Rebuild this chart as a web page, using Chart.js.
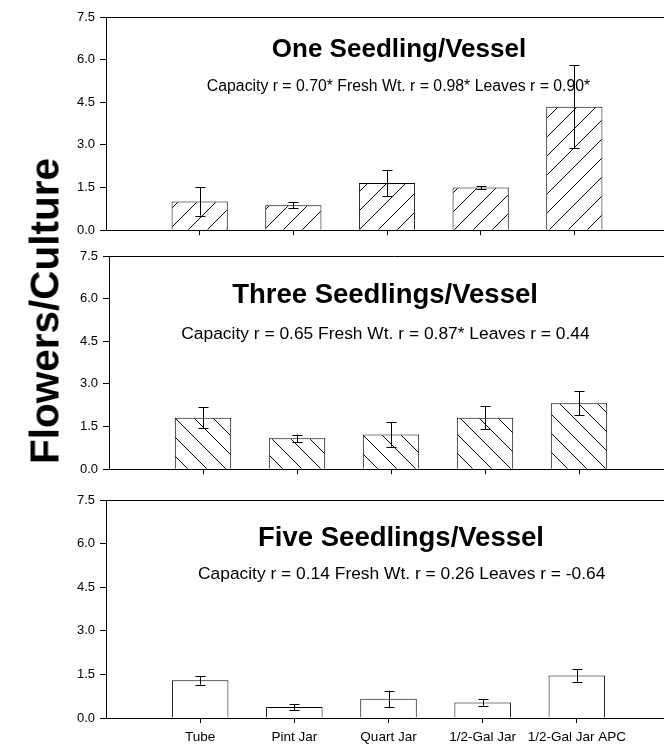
<!DOCTYPE html>
<html><head><meta charset="utf-8">
<script src="https://cdn.jsdelivr.net/npm/chart.js@4.4.1/dist/chart.umd.min.js"></script>
<style>
html,body{margin:0;padding:0;background:#fff;overflow:hidden;width:664px;height:745px;}
.wrap{position:absolute;left:0;}
#ytitle{position:absolute;left:45px;top:311px;transform:translate(-50%,-50%) rotate(-90deg);font:bold 40.5px "Liberation Sans",Arial,sans-serif;white-space:nowrap;color:#000;}
</style></head><body>
<div class="wrap" style="top:0"><canvas id="c1" width="680" height="243"></canvas></div>
<div class="wrap" style="top:243px"><canvas id="c2" width="680" height="239"></canvas></div>
<div class="wrap" style="top:482px"><canvas id="c3" width="680" height="263"></canvas></div>
<div id="ytitle">Flowers/Culture</div>
<script>
// ---- data ----
const categories = ['Tube', 'Pint Jar', 'Quart Jar', '1/2-Gal Jar', '1/2-Gal Jar APC'];
const oneMean   = [1.01, 0.88, 1.66, 1.50, 4.34];
const oneErr    = [0.50, 0.10, 0.47, 0.06, 1.46];
const threeMean = [1.81, 1.09, 1.22, 1.81, 2.32];
const threeErr  = [0.37, 0.13, 0.43, 0.41, 0.42];
const fiveMean  = [1.30, 0.38, 0.66, 0.53, 1.46];
const fiveErr   = [0.15, 0.10, 0.28, 0.11, 0.21];
const yTicks    = [0, 1.5, 3.0, 4.5, 6.0, 7.5];
const panelTitles = ['One Seedling/Vessel', 'Three Seedlings/Vessel', 'Five Seedlings/Vessel'];
const panelStats  = [
  'Capacity r = 0.70* Fresh Wt. r = 0.98* Leaves r = 0.90*',
  'Capacity r = 0.65 Fresh Wt. r = 0.87* Leaves r = 0.44',
  'Capacity r = 0.14 Fresh Wt. r = 0.26 Leaves r = -0.64'
];

const FONT = '"Liberation Sans", Arial, Helvetica, sans-serif';
const labels = ['', ...categories, ''];
const pad = arr => [null, ...arr, null];

function hatch(dir) {
  const s = 19;
  const c = document.createElement('canvas');
  c.width = s; c.height = s;
  const g = c.getContext('2d');
  g.fillStyle = '#fff'; g.fillRect(0, 0, s, s);
  g.strokeStyle = '#000'; g.lineWidth = 1;
  g.beginPath();
  if (dir === '/') {
    g.moveTo(-2, s + 2); g.lineTo(s + 2, -2);
    g.moveTo(-2, 2); g.lineTo(2, -2);
    g.moveTo(s - 2, s + 2); g.lineTo(s + 2, s - 2);
  } else {
    g.moveTo(-2, -2); g.lineTo(s + 2, s + 2);
    g.moveTo(s - 2, -2); g.lineTo(s + 2, 2);
    g.moveTo(-2, s - 2); g.lineTo(2, s + 2);
  }
  g.stroke();
  return g.createPattern(c, 'repeat');
}

const decor = {
  id: 'decor',
  afterDatasetsDraw(chart, args, o) {
    const ctx = chart.ctx, a = chart.chartArea;
    const ys = chart.scales.y;
    const meta = chart.getDatasetMeta(0);
    ctx.save();
    ctx.strokeStyle = '#000'; ctx.lineWidth = 1;
    // error bars
    o.err.forEach((e, i) => {
      const v = o.mean[i];
      const el = meta.data[i + 1];
      const x = Math.round(el.x) + 0.5;
      const y1 = ys.getPixelForValue(v + e), y2 = ys.getPixelForValue(v - e);
      ctx.beginPath();
      ctx.moveTo(x, y1); ctx.lineTo(x, y2);
      ctx.moveTo(x - 5, Math.round(y1) + 0.5); ctx.lineTo(x + 5, Math.round(y1) + 0.5);
      ctx.moveTo(x - 5, Math.round(y2) + 0.5); ctx.lineTo(x + 5, Math.round(y2) + 0.5);
      ctx.stroke();
    });
    // top frame line
    ctx.beginPath();
    ctx.moveTo(a.left, Math.round(a.top) + 0.5); ctx.lineTo(chart.width, Math.round(a.top) + 0.5);
    ctx.stroke();
    // texts
    ctx.fillStyle = '#000';
    ctx.textAlign = 'center'; ctx.textBaseline = 'alphabetic';
    ctx.font = 'bold ' + o.titleSize + 'px ' + FONT;
    ctx.fillText(o.title, o.cx, o.titleY);
    ctx.font = o.subSize + 'px ' + FONT;
    ctx.fillText(o.sub, o.subCx, o.subY);
    ctx.restore();
  }
};

function makeChart(id, mean, err, fill, cfg) {
  return new Chart(document.getElementById(id), {
    type: 'bar',
    data: {
      labels: labels,
      datasets: [{
        data: pad(mean),
        backgroundColor: fill,
        borderColor: '#000',
        borderWidth: 1,
        barPercentage: 0.6,
        categoryPercentage: 1.0
      }]
    },
    options: {
      responsive: false,
      animation: false,
      layout: { padding: { top: cfg.top, right: cfg.right, left: 0, bottom: 0 } },
      plugins: {
        legend: { display: false }, tooltip: { enabled: false },
        decor: { mean, err, title: cfg.title, sub: cfg.sub, titleSize: cfg.titleSize, subSize: cfg.subSize,
                 cx: cfg.cx, titleY: cfg.titleY, subCx: cfg.subCx, subY: cfg.subY }
      },
      scales: {
        x: {
          offset: false,
          z: 1,
          grid: { offset: false, drawOnChartArea: false, drawTicks: true, tickLength: 5,
                  color: '#000', tickColor: c => (c.index === 0 || c.index === labels.length - 1) ? 'rgba(0,0,0,0)' : '#000' },
          border: { display: true, color: '#000', width: 1 },
          ticks: { display: cfg.showLabels, autoSkip: false, maxRotation: 0, minRotation: 0, padding: 6,
                   color: '#000', font: { family: FONT, size: 13.5 } },
          afterFit: s => { s.height = cfg.xh; }
        },
        y: {
          min: 0, max: 7.5,
          afterBuildTicks: s => { s.ticks = yTicks.map(v => ({ value: v })); },
          grid: { drawOnChartArea: false, drawTicks: true, tickLength: 6, color: '#000' },
          border: { display: true, color: '#000', width: 1 },
          ticks: { padding: 5, color: '#000', font: { family: FONT, size: 13 }, callback: v => Number(v).toFixed(1) },
          afterFit: s => { s.width = cfg.yw; }
        }
      }
    },
    plugins: [decor]
  });
}

makeChart('c1', oneMean, oneErr, hatch('/'), {
  top: 17, right: 12, yw: 106, xh: 8, showLabels: false,
  title: panelTitles[0], sub: panelStats[0], titleSize: 26, subSize: 15.8,
  cx: 399, titleY: 57, subCx: 398.5, subY: 91
});
makeChart('c2', threeMean, threeErr, hatch('\\'), {
  top: 13, right: 7, yw: 109, xh: 8, showLabels: false,
  title: panelTitles[1], sub: panelStats[1], titleSize: 27.5, subSize: 17.4,
  cx: 385, titleY: 60, subCx: 385.5, subY: 96
});
makeChart('c3', fiveMean, fiveErr, '#fff', {
  top: 18, right: 9, yw: 106, xh: 27, showLabels: true,
  title: panelTitles[2], sub: panelStats[2], titleSize: 27.5, subSize: 17.4,
  cx: 401, titleY: 64, subCx: 401.7, subY: 97
});
</script>
</body></html>
